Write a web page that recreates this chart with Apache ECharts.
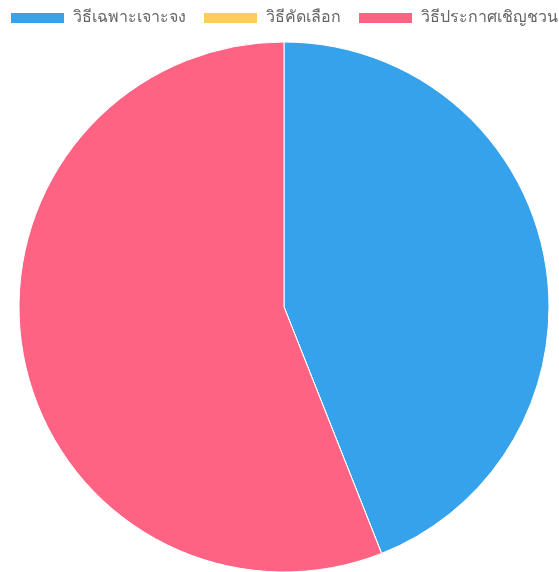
<!DOCTYPE html>
<html><head><meta charset="utf-8">
<script src="https://cdn.jsdelivr.net/npm/echarts@6/dist/echarts.min.js"></script>
<style>html,body{margin:0;padding:0;background:#fff}#c{width:559px;height:572px}</style>
</head><body><div id="c"></div>
<script>
const categories = ['วิธีเฉพาะเจาะจง', 'วิธีคัดเลือก', 'วิธีประกาศเชิญชวน'];
const values = [44, 0, 56];
const colors = ['#36A2EB', '#FFCE56', '#FF6384'];
const chart = echarts.init(document.getElementById('c'), null, {renderer: 'canvas'});
chart.setOption({
  animation: false,
  legend: {
    top: 10, left: 9, padding: 0, width: 700,
    itemWidth: 55, itemHeight: 12, itemGap: 16,
    icon: 'rect',
    textStyle: {color: '#666', fontSize: 16, fontFamily: 'sans-serif', padding: [0, 0, 0, 3]},
    data: categories
  },
  series: [{
    type: 'pie',
    center: [284, 307],
    radius: 265,
    startAngle: 90,
    clockwise: true,
    label: {show: false},
    labelLine: {show: false},
    emphasis: {disabled: true},
    itemStyle: {borderColor: '#fff', borderWidth: 1},
    data: categories.map((n, i) => ({name: n, value: values[i], itemStyle: {color: colors[i]}}))
  }]
});
</script></body></html>
